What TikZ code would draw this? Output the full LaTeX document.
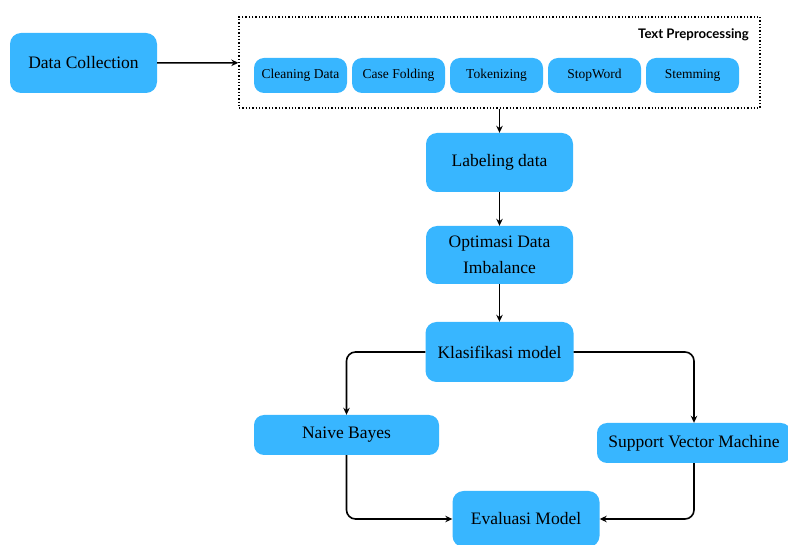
\documentclass[tikz,border=0pt]{standalone}
\usepackage{fontspec}
\setmainfont{Liberation Serif}
\newfontfamily\boxfont{Liberation Serif}
\newfontfamily\titlefont{Lato}
\usepackage{xcolor}
\usetikzlibrary{arrows.meta,positioning,calc}

\definecolor{stepblue}{HTML}{38B6FF}

\begin{document}
\begin{tikzpicture}[x=1pt, y=-1pt,
    bigbox/.style={fill=stepblue, draw=none, rounded corners=11pt, align=center,
        font=\boxfont\fontsize{17.5}{26}\selectfont, inner sep=0pt},
    smallbox/.style={fill=stepblue, draw=none, rounded corners=10pt, align=center,
        minimum width=93pt, minimum height=35pt, font=\boxfont\fontsize{13.5}{16}\selectfont, inner sep=0pt},
    flow/.style={line width=1.6pt, -{Stealth[length=7pt, width=6.5pt]}, rounded corners=9pt}]
        \useasboundingbox (0,0) rectangle (788,545);
        \clip (0,0) rectangle (788,545);

        % Left: data source
        \node[bigbox, minimum width=147pt, minimum height=60pt] (collect) at (83.5,63) {Data Collection};

        % Dotted frame: Text Preprocessing
        \node[draw, dotted, line width=1.3pt, minimum width=521pt, minimum height=91pt, inner sep=0pt] (prep) at (499.5,62.5) {};
        \node[anchor=east, inner sep=0pt, font=\titlefont\bfseries\fontsize{13.2}{15}\selectfont] (preptitle) at (749,35) {Text Preprocessing};
        \foreach \name/\txt [count=\i] in {clean/Cleaning Data, fold/Case Folding, token/Tokenizing, stop/StopWord, stem/Stemming}
            \node[smallbox] (\name) at ({300.5+98*(\i-1)},75.5) {\txt};

        % Main column
        \node[bigbox, minimum width=147pt, minimum height=59pt] (label) at (499.5,162.5) {Labeling data};
        \node[bigbox, minimum width=147pt, minimum height=58pt] (optim) at (499.5,255) {Optimasi Data\\Imbalance};
        \node[bigbox, minimum width=148pt, minimum height=60pt] (klas) at (499.5,352) {Klasifikasi model};

        % Classifiers
        \node[bigbox, minimum width=185pt, minimum height=40pt, rounded corners=10pt] (nb) at (346.5,435) {Naive Bayes};
        \node[bigbox, minimum width=194pt, minimum height=40pt, rounded corners=10pt] (svm) at (694,443) {Support Vector Machine};
        \node[bigbox, minimum width=147pt, minimum height=56pt] (eval) at (526,519) {Evaluasi Model};

        % Connectors
        \draw[flow] (collect) -- (prep);
        \draw[flow] (prep) -- (label);
        \draw[flow] (label) -- (optim);
        \draw[flow] (optim) -- (klas);
        \draw[flow] (klas.west) -| (nb.north);
        \draw[flow] (klas.east) -| (svm.north);
        \draw[flow] (nb.south) |- (eval.west);
        \draw[flow] (svm.south) |- (eval.east);
    \end{tikzpicture}
\end{document}
